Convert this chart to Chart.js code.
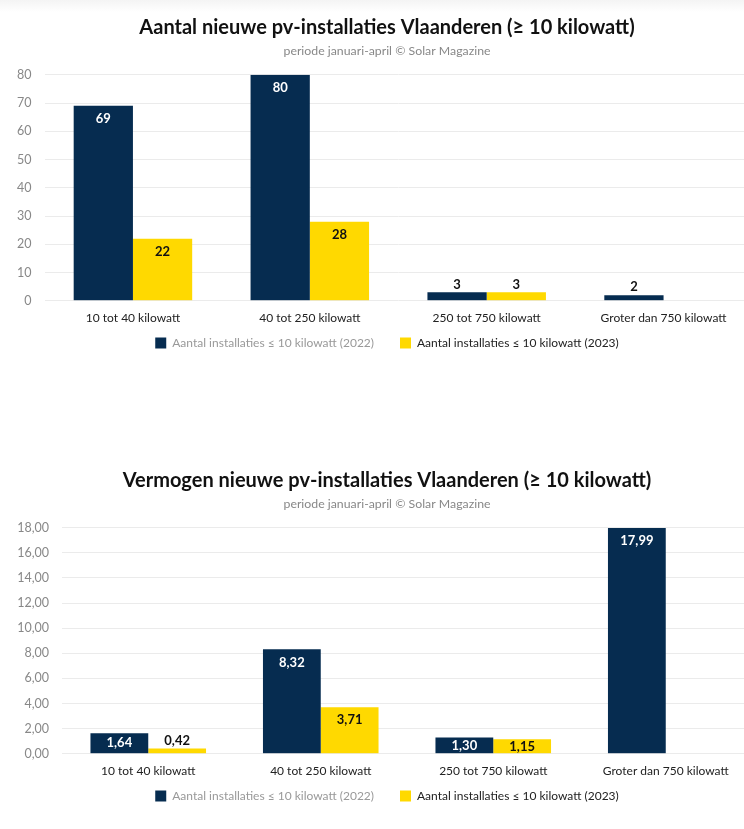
<!DOCTYPE html>
<html>
<head>
<meta charset="utf-8">
<script src="https://cdn.jsdelivr.net/npm/chart.js@4.4.0/dist/chart.umd.min.js"></script>
<style>
  html, body { margin: 0; padding: 0; background: #fff; overflow: hidden; }
  #page { position: relative; width: 744px; height: 829px; overflow: hidden;
          background: linear-gradient(#f4f4f4, #fff 12px); }
  .box { position: absolute; left: 0; width: 775px; height: 376px; }
</style>
</head>
<body>
<div id="page">
  <div class="box" style="top:0"><canvas id="chartAantal" width="775" height="376"></canvas></div>
  <div class="box" style="top:453px"><canvas id="chartVermogen" width="775" height="376"></canvas></div>
</div>
<script>
const categories = ['10 tot 40 kilowatt', '40 tot 250 kilowatt', '250 tot 750 kilowatt', 'Groter dan 750 kilowatt'];
const seriesNames = ['Aantal installaties \u2264 10 kilowatt (2022)', 'Aantal installaties \u2264 10 kilowatt (2023)'];

const aantal2022 = [69, 80, 3, 2];
const aantal2023 = [22, 28, 3, null];

const vermogen2022 = [1.64, 8.32, 1.30, 17.99];
const vermogen2023 = [0.42, 3.71, 1.15, null];

const navy = '#062c50';
const yellow = '#ffd900';
const fontFam = 'Lato, "Open Sans", sans-serif';

function fmtNum(v, decimals) {
  return decimals ? v.toFixed(decimals).replace('.', ',') : String(v);
}

// let tick labels run outside their (narrow) axis boxes
const noLabelClip = {
  id: 'noLabelClip',
  beforeDraw(chart) {
    Object.values(chart.scales).forEach(s => { s._computeLabelArea = () => undefined; });
  }
};

// value labels on the bars
const barLabels = {
  id: 'barLabels',
  afterDatasetsDraw(chart) {
    const ctx = chart.ctx;
    const dec = chart.options.plugins.barLabels.decimals;
    ctx.save();
    ctx.font = 'bold 13px ' + fontFam;
    ctx.textAlign = 'center';
    ctx.textBaseline = 'middle';
    chart.data.datasets.forEach((ds, di) => {
      const meta = chart.getDatasetMeta(di);
      meta.data.forEach((bar, i) => {
        const v = ds.data[i];
        if (v === null || v === undefined) return;
        const h = bar.base - bar.y;
        let y, col;
        if (h >= 26) {
          y = bar.y + 13;
          col = di === 0 ? '#fff' : '#111';
        } else if (h >= 12) {
          y = (bar.y + bar.base) / 2;
          col = di === 0 ? '#fff' : '#111';
        } else {
          y = bar.y - 8;
          col = '#111';
        }
        ctx.fillStyle = col;
        ctx.fillText(fmtNum(v, dec), bar.x, y);
      });
    });
    ctx.restore();
  }
};

function makeChart(id, title, d2022, d2023, maxY, step, decimals, axisWidth) {
  return new Chart(document.getElementById(id), {
    type: 'bar',
    data: {
      labels: categories,
      datasets: [{
        label: seriesNames[0],
        data: d2022,
        backgroundColor: navy,
        categoryPercentage: 0.67,
        barPercentage: 1.0
      }, {
        label: seriesNames[1],
        data: d2023,
        backgroundColor: yellow,
        categoryPercentage: 0.67,
        barPercentage: 1.0
      }]
    },
    options: {
      responsive: false,
      animation: false,
      layout: { padding: { left: 22, right: 23, top: 0, bottom: 17 } },
      scales: {
        x: {
          grid: { display: false, drawTicks: false },
          border: { display: false },
          afterFit: (scale) => { scale.height = 10.2; },
          ticks: { color: '#222', font: { family: fontFam, size: 12 }, padding: 10, maxRotation: 0 }
        },
        y: {
          min: 0,
          max: maxY,
          grid: { color: '#ebebeb', drawTicks: false },
          border: { display: false },
          afterFit: (scale) => { scale.width = axisWidth; },
          ticks: {
            stepSize: step,
            color: '#888',
            padding: 13,
            font: { family: fontFam, size: 12.5 },
            callback: (v) => fmtNum(v, decimals)
          }
        }
      },
      plugins: {
        title: {
          display: true,
          text: title,
          color: '#111',
          font: { family: fontFam, size: 20, weight: 'bold' },
          padding: { top: 16, bottom: 4 }
        },
        subtitle: {
          display: true,
          text: 'periode januari-april \u00a9 Solar Magazine',
          color: '#888',
          font: { family: fontFam, size: 12.3 },
          padding: { top: 0, bottom: 16 }
        },
        legend: {
          position: 'bottom',
          labels: {
            boxWidth: 11,
            boxHeight: 11,
            padding: 26,
            font: { family: fontFam, size: 12 },
            generateLabels: (chart) => chart.data.datasets.map((ds, i) => ({
              text: ds.label,
              fillStyle: ds.backgroundColor,
              strokeStyle: ds.backgroundColor,
              lineWidth: 0,
              fontColor: i === 0 ? '#999' : '#222',
              datasetIndex: i
            }))
          }
        },
        tooltip: { enabled: false },
        barLabels: { decimals: decimals }
      }
    },
    plugins: [noLabelClip, barLabels]
  });
}

makeChart('chartAantal', 'Aantal nieuwe pv-installaties Vlaanderen (\u2265 10 kilowatt)',
  aantal2022, aantal2023, 80, 10, 0, 22.5);

makeChart('chartVermogen', 'Vermogen nieuwe pv-installaties Vlaanderen (\u2265 10 kilowatt)',
  vermogen2022, vermogen2023, 18, 2, 2, 40);
</script>
</body>
</html>
